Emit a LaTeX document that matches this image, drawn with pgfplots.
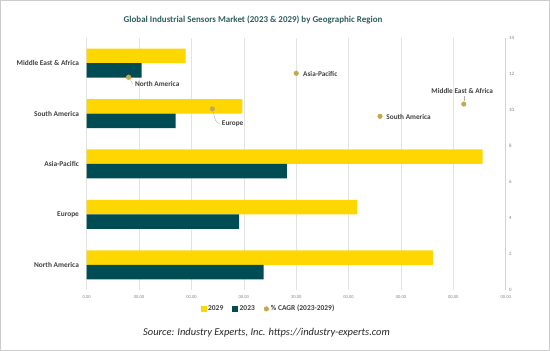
\documentclass[border=0pt]{standalone}
\usepackage{pgfplots}
\pgfplotsset{compat=1.18}
\usepackage{fontspec}
\setmainfont{Carlito}
\definecolor{ylw}{HTML}{FFD700}
\definecolor{dteal}{HTML}{004C54}
\definecolor{ptfill}{HTML}{9BBB59}
\definecolor{ptedge}{HTML}{F79646}
\definecolor{ttl}{HTML}{2F5F5F}
\definecolor{lbl}{HTML}{404040}
\definecolor{grd}{HTML}{E3E3E3}
\begin{document}
\begin{tikzpicture}
\useasboundingbox (0bp,0bp) rectangle (550bp,351bp);
\draw[gray!40, line width=1bp] (0.5bp,0.5bp) rectangle (549.5bp,350.5bp);
\node[font=\bfseries\fontsize{9}{11}\selectfont, text=ttl] at (253bp,331bp) {Global Industrial Sensors Market (2023 \& 2029) by Geographic Region};
\node[font=\itshape\fontsize{10.5}{12}\selectfont, text=black!85] at (266.5bp,18bp) {Source: Industry Experts, Inc. https://industry-experts.com};
\begin{axis}[
  at={(86.7bp,61bp)}, anchor=south west, scale only axis,
  width=419bp, height=252bp,
  xmin=0, xmax=8, ymin=-0.5, ymax=4.5,
  xbar, bar width=14.5bp,
  ytick={0,1,2,3,4},
  yticklabels={North America,Europe,Asia-Pacific,South America,Middle East \& Africa},
  yticklabel style={font=\bfseries\fontsize{7.4}{9}\selectfont, text=lbl},
  ytick style={draw=none},
  xtick={0,1,2,3,4,5,6,7,8},
  xticklabels={0.00,00.00,00.00,00.00,30.00,00.00,00.00,00.00,00.00},
  xticklabel style={font=\fontsize{4.5}{5}\selectfont, text=gray, yshift=-2bp},
  xtick style={draw=none},
  xmajorgrids, grid style={grd, line width=0.6bp},
  axis line style={draw=none},
]
\addplot[fill=ylw, draw=none, bar shift=7.25bp] coordinates {(6.61,0) (5.17,1) (7.56,2) (2.97,3) (1.89,4)};
\addplot[fill=dteal, draw=none, bar shift=-7.25bp] coordinates {(3.38,0) (2.91,1) (3.82,2) (1.70,3) (1.05,4)};
\end{axis}
\begin{axis}[
  at={(86.7bp,61bp)}, anchor=south west, scale only axis,
  width=419bp, height=252bp,
  xmin=0, xmax=8, ymin=0, ymax=14,
  axis x line=none,
  axis y line*=right,
  y axis line style={draw=gray!35, line width=0.6bp},
  ytick={0,2,...,14},
  scaled y ticks=false,
  /pgf/number format/assume math mode=true,
  yticklabel style={font=\fontsize{5}{6}\selectfont, text=gray},
  ytick style={draw=none},
  legend columns=3,
  legend style={at={(0.434,-0.075)}, anchor=center, draw=none, fill=none,
    font=\bfseries\fontsize{7.5}{9}\selectfont, text=lbl,
    /tikz/every even column/.append style={column sep=7bp}},
  clip=false,
]
\addlegendimage{legend image code/.code={\fill[ylw] (0bp,-2.5bp) rectangle (5bp,2.5bp);}}
\addlegendentry{2029}
\addlegendimage{legend image code/.code={\fill[dteal] (0bp,-2.5bp) rectangle (5bp,2.5bp);}}
\addlegendentry{2023}
\addplot[only marks, mark=*, mark size=2.3bp, mark options={fill=ptfill, draw=ptedge, line width=0.5bp},
  legend image code/.code={\draw[fill=ptfill, draw=ptedge, line width=0.5bp] (2.5bp,0bp) circle (2.3bp);}]
  coordinates {(0.8,11.82) (2.4,10.06) (4.0,12.04) (5.6,9.65) (7.2,10.33)};
\addlegendentry{\% CAGR (2023-2029)}
\draw[gray!60, line width=0.4bp] (axis cs:0.83,11.7) -- (axis cs:0.88,11.43);
\draw[gray!60, line width=0.4bp] (axis cs:2.42,9.9) .. controls (axis cs:2.45,9.4) .. (axis cs:2.54,9.22);
\draw[gray!60, line width=0.4bp] (axis cs:7.2,10.5) -- (axis cs:7.2,10.8);
\node[anchor=west, font=\bfseries\fontsize{7.3}{9}\selectfont, text=lbl, inner sep=1bp] at (axis cs:0.90,11.43) {North America};
\node[anchor=west, font=\bfseries\fontsize{7.3}{9}\selectfont, text=lbl, inner sep=1bp] at (axis cs:2.56,9.22) {Europe};
\node[anchor=west, font=\bfseries\fontsize{7.3}{9}\selectfont, text=lbl, inner sep=1bp] at (axis cs:4.11,12.02) {Asia-Pacific};
\node[anchor=west, font=\bfseries\fontsize{7.3}{9}\selectfont, text=lbl, inner sep=1bp] at (axis cs:5.70,9.61) {South America};
\node[anchor=center, font=\bfseries\fontsize{7.3}{9}\selectfont, text=lbl, inner sep=1bp] at (axis cs:7.17,11.04) {Middle East \& Africa};
\end{axis}
\end{tikzpicture}
\end{document}
